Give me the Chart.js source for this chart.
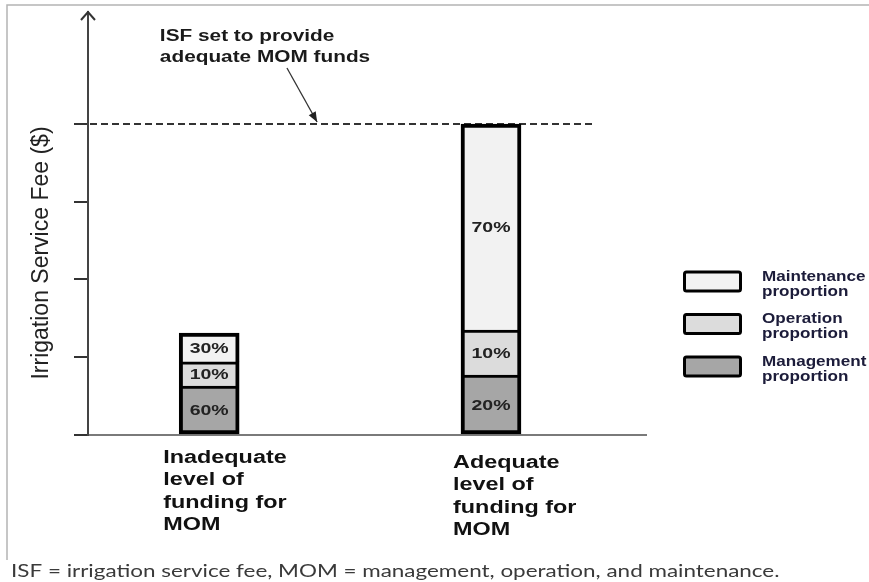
<!DOCTYPE html>
<html>
<head>
<meta charset="utf-8">
<script src="https://cdn.jsdelivr.net/npm/chart.js@4.4.1/dist/chart.umd.min.js"></script>
<style>
  html, body { margin: 0; padding: 0; background: #fff; }
  #wrap { width: 869px; height: 582px; }
</style>
</head>
<body>
<div id="wrap"><canvas id="chartCanvas" width="869" height="582"></canvas></div>
<script>
const categories = [
  ['Inadequate', 'level of', 'funding for', 'MOM'],
  ['Adequate', 'level of', 'funding for', 'MOM']
];
// segment heights in axis units
const managementFee = [0.63, 0.77];
const operationFee = [0.31, 0.58];
const maintenanceFee = [0.37, 2.65];
// percentages printed inside the segments
const managementPct = [60, 20];
const operationPct = [10, 10];
const maintenancePct = [30, 70];
const yTicks = [0, 1, 2, 3, 4];
const isfLevel = 4;

const legendItems = [
  { text: ['Maintenance', 'proportion'], color: '#f2f2f2' },
  { text: ['Operation', 'proportion'], color: '#dcdcdc' },
  { text: ['Management', 'proportion'], color: '#a6a6a6' }
];

// the source picture is stretched sideways, so text is too
const STRETCH = 1.3;

function drawText(ctx, text, x, y, align, sx) {
  ctx.save();
  ctx.translate(x, y);
  ctx.scale(sx || STRETCH, 1);
  ctx.textAlign = align || 'left';
  ctx.fillText(text, 0, 0);
  ctx.restore();
}

function segment(label, values, color, border) {
  return {
    label: label,
    data: values.map((v, i) => ({ x: i + 1, y: v })),
    backgroundColor: color,
    borderColor: '#000',
    borderWidth: border,
    borderSkipped: false,
    barThickness: 60
  };
}

const decor = {
  id: 'decor',
  beforeDatasetsDraw(chart) {
    const ctx = chart.ctx;
    const x = chart.scales.x, y = chart.scales.y;
    // dashed ISF line
    ctx.save();
    ctx.strokeStyle = '#333';
    ctx.lineWidth = 2;
    ctx.setLineDash([7, 4]);
    ctx.beginPath();
    ctx.moveTo(x.left + 2, y.getPixelForValue(isfLevel));
    ctx.lineTo(x.getPixelForValue(2.36), y.getPixelForValue(isfLevel));
    ctx.stroke();
    ctx.restore();
  },
  afterDraw(chart) {
    const ctx = chart.ctx;
    const x = chart.scales.x, y = chart.scales.y;
    const area = chart.chartArea;

    // frame of the source figure
    ctx.save();
    ctx.strokeStyle = '#b4b4b4';
    ctx.lineWidth = 1.5;
    ctx.beginPath();
    ctx.moveTo(7, 560);
    ctx.lineTo(7, 5);
    ctx.lineTo(869, 5);
    ctx.stroke();
    ctx.restore();

    // arrow head on the y axis
    ctx.save();
    ctx.strokeStyle = '#333';
    ctx.lineWidth = 2;
    ctx.beginPath();
    ctx.moveTo(area.left - 7, area.top + 8);
    ctx.lineTo(area.left, area.top);
    ctx.lineTo(area.left + 7, area.top + 8);
    ctx.stroke();
    ctx.restore();

    // annotation
    ctx.save();
    ctx.fillStyle = '#1a1a1a';
    ctx.font = 'bold 16px "Liberation Sans", Arial, sans-serif';
    ctx.textBaseline = 'middle';
    const tx = x.getPixelForValue(0.825);
    drawText(ctx, 'ISF set to provide', tx, y.getPixelForValue(5.12));
    drawText(ctx, 'adequate MOM funds', tx, y.getPixelForValue(4.86));
    const fx = x.getPixelForValue(1.276), fy = y.getPixelForValue(4.72);
    const ex = x.getPixelForValue(1.383), ey = y.getPixelForValue(isfLevel) - 2;
    ctx.strokeStyle = '#333';
    ctx.fillStyle = '#222';
    ctx.lineWidth = 1.3;
    ctx.beginPath();
    ctx.moveTo(fx, fy);
    ctx.lineTo(ex, ey);
    ctx.stroke();
    const ang = Math.atan2(ey - fy, ex - fx);
    ctx.beginPath();
    ctx.moveTo(ex, ey);
    ctx.lineTo(ex - 10 * Math.cos(ang) + 4 * Math.sin(ang), ey - 10 * Math.sin(ang) - 4 * Math.cos(ang));
    ctx.lineTo(ex - 10 * Math.cos(ang) - 4 * Math.sin(ang), ey - 10 * Math.sin(ang) + 4 * Math.cos(ang));
    ctx.closePath();
    ctx.fill();
    ctx.restore();

    // percentages inside the segments
    const pcts = [managementPct, operationPct, maintenancePct];
    ctx.save();
    ctx.fillStyle = '#222';
    ctx.font = 'bold 15px "Liberation Sans", Arial, sans-serif';
    ctx.textBaseline = 'middle';
    pcts.forEach((arr, d) => {
      chart.getDatasetMeta(d).data.forEach((el, i) => {
        drawText(ctx, arr[i] + '%', el.x, (el.y + el.base) / 2 + 1, 'center');
      });
    });
    ctx.restore();

    // category labels
    const labelDx = [-46, -38];
    const labelTop = [458, 463];
    ctx.save();
    ctx.fillStyle = '#111';
    ctx.font = 'bold 18px "Liberation Sans", Arial, sans-serif';
    ctx.textBaseline = 'middle';
    categories.forEach((lines, i) => {
      const cx = x.getPixelForValue(i + 1) + labelDx[i];
      lines.forEach((line, k) => drawText(ctx, line, cx, labelTop[i] + k * 22.5));
    });
    ctx.restore();

    // legend
    ctx.save();
    ctx.textBaseline = 'middle';
    legendItems.forEach((item, i) => {
      const top = 272 + i * 42.5;
      ctx.fillStyle = item.color;
      ctx.strokeStyle = '#000';
      ctx.lineWidth = 3;
      ctx.beginPath();
      ctx.roundRect(684.5, top, 56, 19, 2);
      ctx.fill();
      ctx.stroke();
      ctx.fillStyle = '#1c1c3a';
      ctx.font = 'bold 14px "Liberation Sans", Arial, sans-serif';
      drawText(ctx, item.text[0], 762, top + 5, 'left', 1.22);
      drawText(ctx, item.text[1], 762, top + 20, 'left', 1.22);
    });
    ctx.restore();

    // y axis title
    ctx.save();
    ctx.fillStyle = '#222';
    ctx.font = '23px "Liberation Sans", Arial, sans-serif';
    ctx.textBaseline = 'middle';
    ctx.textAlign = 'center';
    ctx.translate(42, 253);
    ctx.rotate(-Math.PI / 2);
    ctx.fillText('Irrigation Service Fee ($)', 0, 0);
    ctx.restore();

    // source note
    ctx.save();
    ctx.fillStyle = '#3a3a3a';
    ctx.font = '17px Lato, "Open Sans", sans-serif';
    ctx.textBaseline = 'middle';
    drawText(ctx, 'ISF = irrigation service fee, MOM = management, operation, and maintenance.', 11, 572, 'left', 1.32);
    ctx.restore();
  }
};

const chart = new Chart(document.getElementById('chartCanvas').getContext('2d'), {
  type: 'bar',
  data: {
    datasets: [
      segment('Management proportion', managementFee, legendItems[2].color, { left: 4, right: 4, top: 3, bottom: 4 }),
      segment('Operation proportion', operationFee, legendItems[1].color, { left: 4, right: 4, top: 3, bottom: 0 }),
      segment('Maintenance proportion', maintenanceFee, legendItems[0].color, { left: 4, right: 4, top: 4, bottom: 0 })
    ]
  },
  options: {
    responsive: false,
    animation: false,
    layout: { padding: { top: 12, right: 223, left: 0, bottom: 0 } },
    plugins: {
      legend: { display: false },
      tooltip: { enabled: false }
    },
    scales: {
      x: {
        type: 'linear',
        stacked: true,
        offset: false,
        min: 0.57,
        max: 2.55,
        ticks: { display: false },
        grid: { display: false, offset: false },
        border: { display: true, color: '#7a7a7a', width: 2 },
        afterFit(scale) { scale.height = 147; }
      },
      y: {
        stacked: true,
        min: 0,
        max: 5.44,
        afterBuildTicks(scale) { scale.ticks = yTicks.map(v => ({ value: v })); },
        ticks: { display: false },
        grid: { display: true, drawOnChartArea: false, drawTicks: true, tickLength: 14, color: '#333', lineWidth: 2 },
        border: { display: true, color: '#444', width: 2 },
        afterFit(scale) { scale.width = 88; }
      }
    }
  },
  plugins: [decor]
});
</script>
</body>
</html>
